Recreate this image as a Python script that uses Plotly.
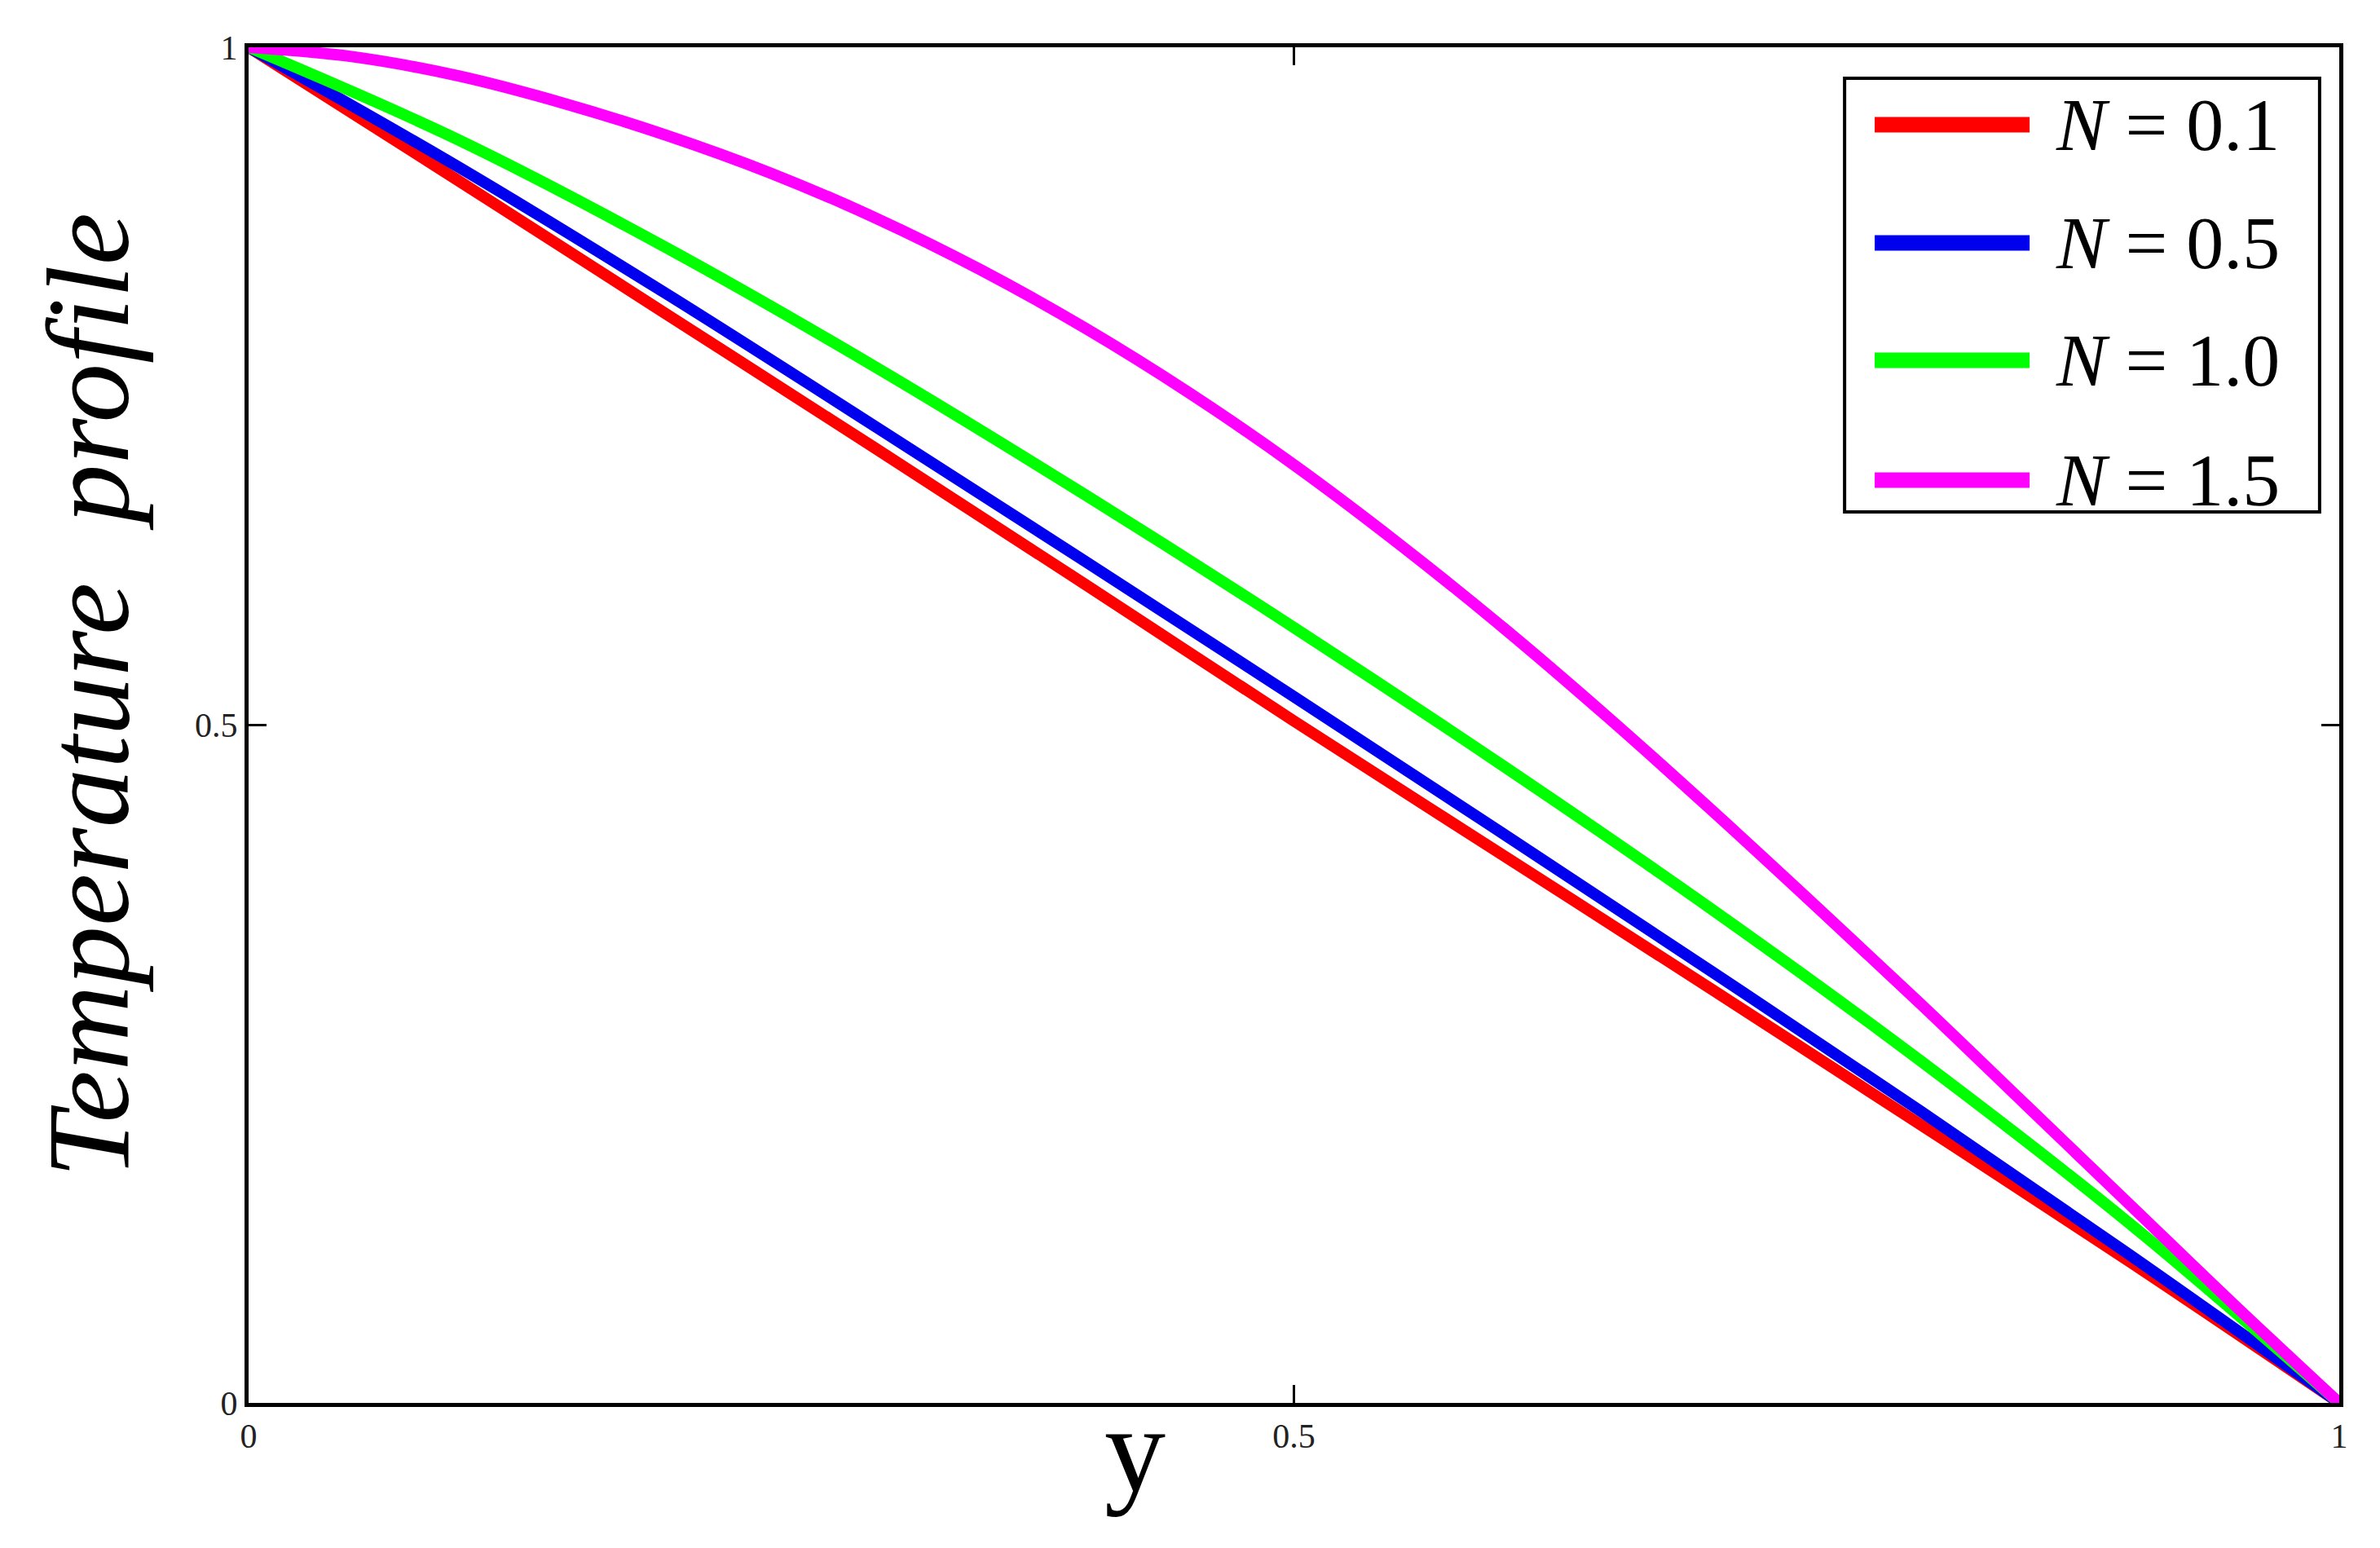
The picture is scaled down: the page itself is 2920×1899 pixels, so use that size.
import plotly.graph_objects as go

# distance across the channel
y_coarse = [0.0, 0.1, 0.2, 0.3, 0.4, 0.5, 0.6, 0.7, 0.8, 0.9, 1.0]
y_fine = [0.0, 0.05, 0.1, 0.15, 0.2, 0.25, 0.3, 0.35, 0.4, 0.45, 0.5,
          0.55, 0.6, 0.65, 0.7, 0.75, 0.8, 0.85, 0.9, 0.95, 1.0]

# temperature profile for each N
theta_n01 = [1.0, 0.902, 0.803, 0.704, 0.604, 0.503, 0.404, 0.305, 0.205, 0.104, 0.0]
theta_n05 = [1.0, 0.912, 0.818, 0.720, 0.621, 0.521, 0.420, 0.318, 0.215, 0.109, 0.0]
theta_n10 = [1.0, 0.932, 0.852, 0.764, 0.670, 0.572, 0.470, 0.364, 0.252, 0.132, 0.0]
theta_n15 = [1.0, 0.993, 0.979, 0.959, 0.935, 0.907, 0.874, 0.836, 0.793, 0.745, 0.692,
             0.634, 0.572, 0.506, 0.437, 0.366, 0.294, 0.220, 0.146, 0.072, 0.0]

labels = ["0.1", "0.5", "1.0", "1.5"]
colors = ["#ff0000", "#0000ee", "#00ff00", "#ff00ff"]

tick_vals = [0, 0.5, 1]
tick_text = ["0", "0.5", "1"]

FONT = "Liberation Serif"

series = [
    (y_coarse, theta_n01),
    (y_coarse, theta_n05),
    (y_coarse, theta_n10),
    (y_fine, theta_n15),
]

fig = go.Figure()
for (xs, ys), lab, col in zip(series, labels, colors):
    fig.add_trace(go.Scatter(
        x=xs, y=ys, mode="lines", name=f"N = {lab}",
        line=dict(color=col, width=14, shape="spline", smoothing=1.0),
        showlegend=False,
    ))

axis_common = dict(
    range=[0, 1],
    tickvals=tick_vals,
    ticktext=tick_text,
    ticks="inside",
    ticklen=22,
    tickwidth=3,
    tickcolor="black",
    showline=True,
    linewidth=5,
    linecolor="black",
    mirror="ticks",
    showgrid=False,
    zeroline=False,
    tickfont=dict(family=FONT, size=42, color="#222"),
)
fig.update_xaxes(**axis_common)
fig.update_yaxes(**axis_common)

# hand-built legend so the sample lines are as long as in the original
leg_rows = [0.9429, 0.8557, 0.7691, 0.6807]
shapes = [dict(type="rect", xref="paper", yref="paper",
               x0=0.7634, x1=0.9906, y0=0.6572, y1=0.9771,
               line=dict(color="black", width=4), fillcolor="white", layer="above")]
annotations = []
for row, lab, col in zip(leg_rows, labels, colors):
    shapes.append(dict(type="line", xref="paper", yref="paper",
                       x0=0.7778, x1=0.8519, y0=row, y1=row,
                       line=dict(color=col, width=19), layer="above"))
    annotations.append(dict(xref="paper", yref="paper", x=0.8635, y=row,
                            xanchor="left", yanchor="middle", showarrow=False,
                            text=f"<i>N</i> = {lab}",
                            font=dict(family=FONT, size=92, color="black")))

annotations.append(dict(xref="paper", yref="paper", x=-0.0768, y=0.522,
                        xanchor="center", yanchor="middle", showarrow=False,
                        textangle=-90, text="<i>Temperature  profile</i>",
                        font=dict(family=FONT, size=145, color="black")))
annotations.append(dict(xref="paper", yref="paper", x=0.424, y=-0.034,
                        xanchor="center", yanchor="middle", showarrow=False,
                        text="y", font=dict(family=FONT, size=150, color="black")))

fig.update_layout(
    width=2920, height=1899,
    margin=dict(l=297, r=58, t=50, b=186),
    paper_bgcolor="white",
    plot_bgcolor="white",
    shapes=shapes,
    annotations=annotations,
    showlegend=False,
)

fig.write_html("out.html")
